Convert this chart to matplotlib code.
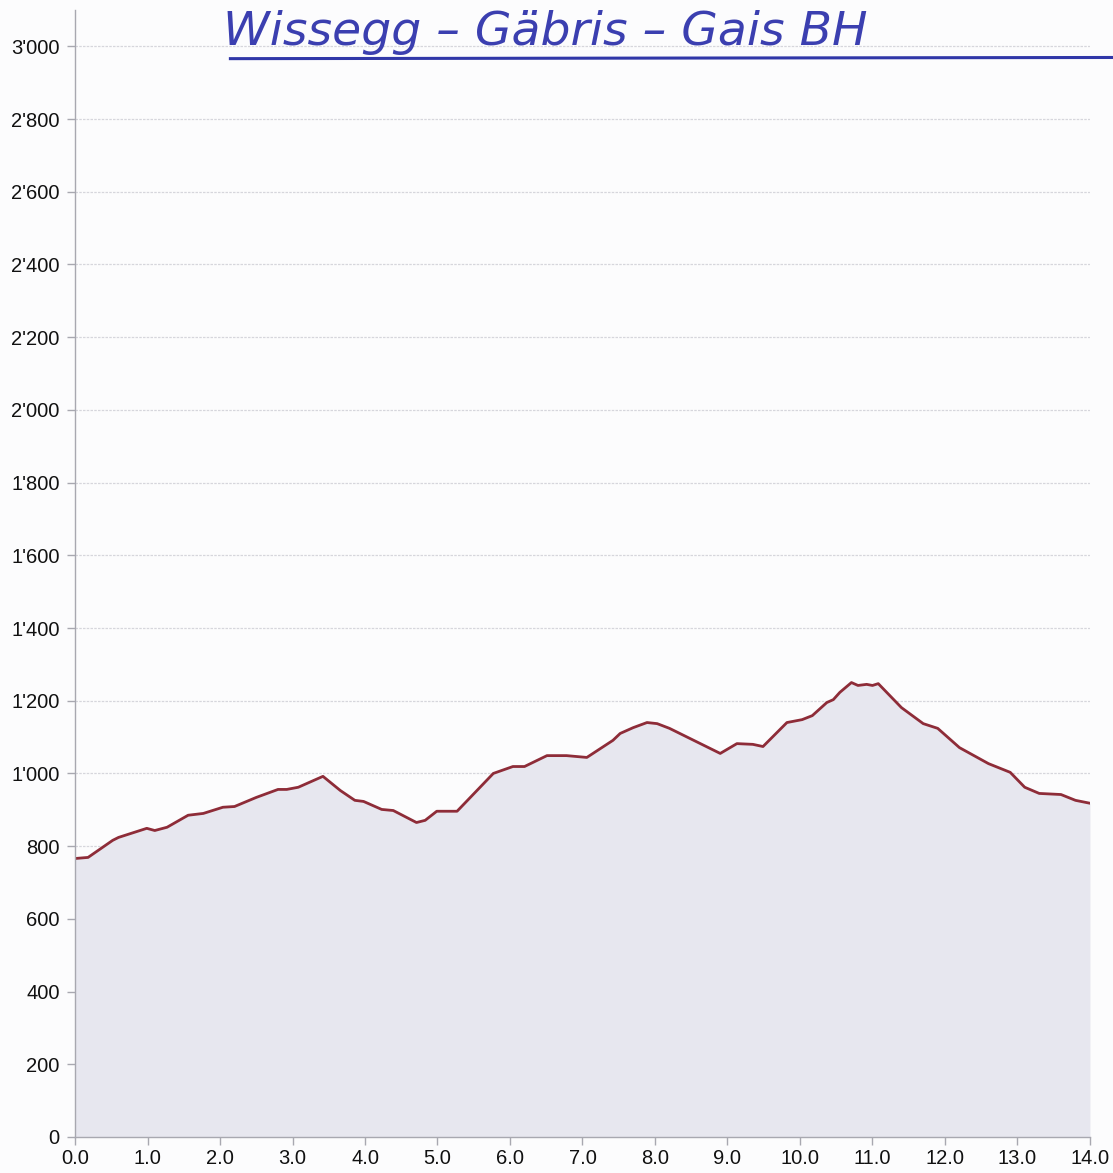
import matplotlib.pyplot as plt
from matplotlib.lines import Line2D
from matplotlib.ticker import FuncFormatter

# Elevation profile (distance in km, elevation in m)
dist_km = [0.0, 0.18, 0.52, 0.6, 0.99, 1.1, 1.27, 1.56, 1.77, 2.04, 2.2, 2.5,
           2.8, 2.92, 3.08, 3.42, 3.66, 3.86, 3.98, 4.23, 4.39, 4.71, 4.83,
           4.99, 5.27, 5.77, 6.04, 6.2, 6.51, 6.78, 7.06, 7.42, 7.52, 7.7,
           7.89, 8.03, 8.2, 8.9, 9.13, 9.35, 9.49, 9.82, 10.03, 10.17, 10.37,
           10.46, 10.55, 10.71, 10.8, 10.92, 11.0, 11.08, 11.4, 11.7, 11.9,
           12.2, 12.6, 12.9, 13.1, 13.3, 13.6, 13.8, 14.0]
elev_m = [766, 769, 816, 824, 849, 843, 852, 885, 890, 907, 909, 934,
          956, 956, 962, 992, 953, 926, 923, 901, 898, 865, 871,
          896, 896, 1000, 1019, 1019, 1049, 1049, 1044, 1091, 1110, 1126,
          1140, 1137, 1124, 1055, 1082, 1080, 1074, 1140, 1148, 1159, 1195,
          1203, 1223, 1250, 1242, 1245, 1242, 1247, 1181, 1137, 1124,
          1071, 1027, 1003, 962, 945, 942, 926, 918]

x_ticks = [i * 1.0 for i in range(15)]
y_ticks = list(range(0, 3001, 200))
title = "Wissegg – Gäbris – Gais BH"

plt.rcParams['font.family'] = ['Liberation Sans', 'DejaVu Sans']

fig = plt.figure(figsize=(11.13, 11.73), dpi=100)
fig.patch.set_facecolor('#fcfcfd')
ax = fig.add_axes([0.0674, 0.0307, 0.9119, 0.9608])
ax.set_facecolor('#fcfcfd')

# Area and outline
ax.fill_between(dist_km, elev_m, 0, color='#e7e7ef', lw=0)
ax.plot(dist_km, elev_m, color='#8e2c38', lw=2.0)

ax.set_xlim(0, 14)
ax.set_ylim(0, 3100)
ax.set_xticks(x_ticks)
ax.set_yticks(y_ticks)
ax.xaxis.set_major_formatter(FuncFormatter(lambda v, p: f"{v:.1f}"))
ax.yaxis.set_major_formatter(FuncFormatter(lambda v, p: f"{int(v):,}".replace(",", "'")))

ax.yaxis.grid(True, color='#d6d6dc', lw=0.9, ls=(0, (2, 1)))
ax.set_axisbelow(True)
for s in ['top', 'right']:
    ax.spines[s].set_visible(False)
for s in ['left', 'bottom']:
    ax.spines[s].set_color('#a8a8b0')
    ax.spines[s].set_linewidth(1.0)

ax.tick_params(axis='both', colors='#a8a8b0', labelcolor='#111111',
               labelsize=14.5, length=6, width=1)
ax.tick_params(axis='x', pad=3)
ax.tick_params(axis='y', pad=5)

# Handwritten-style title with underline
fig.text(0.49, 0.972, title, ha='center', va='center', fontsize=34,
         color='#3b3fb0', style='italic', family=['DejaVu Sans'],
         fontweight='light')
fig.add_artist(Line2D([0.207, 1.0], [0.950, 0.951], color='#3037a8',
                      lw=2.2, transform=fig.transFigure))

plt.savefig("out.png", dpi=100)
